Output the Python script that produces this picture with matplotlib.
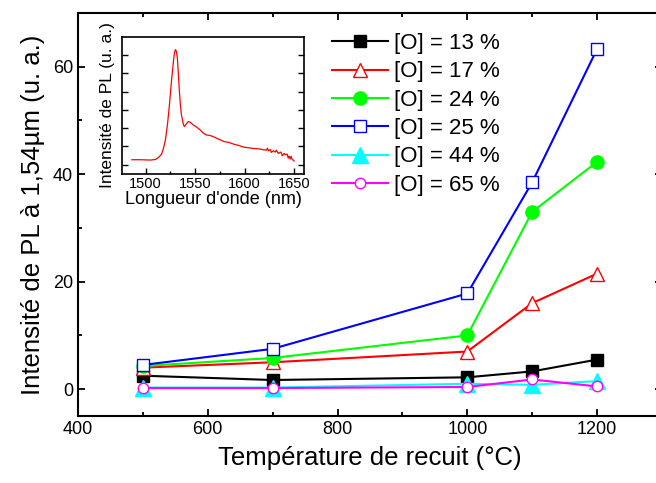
import matplotlib
matplotlib.use('Agg')
import matplotlib.pyplot as plt
import numpy as np

plt.rcParams['font.family'] = ['Liberation Sans', 'DejaVu Sans']

# annealing temperatures (°C) and PL intensity at 1.54 um (a.u.)
temps = [500, 700, 1000, 1100, 1200]
labels = ['[O] = 13 %', '[O] = 17 %', '[O] = 24 %', '[O] = 25 %', '[O] = 44 %', '[O] = 65 %']
o13 = [2.5, 1.7, 2.2, 3.3, 5.5]
o17 = [4.0, 5.0, 7.0, 16.0, 21.5]
o24 = [4.3, 5.8, 10.0, 33.0, 42.3]
o25 = [4.5, 7.5, 17.8, 38.5, 63.3]
o44 = [0.3, 0.3, 1.0, 0.8, 1.5]
o65 = [0.2, 0.2, 0.4, 1.8, 0.5]

# inset spectrum
wl = [1486, 1495, 1505, 1510, 1513, 1516, 1518, 1520, 1522, 1524, 1526, 1528,
      1529, 1530, 1531, 1532, 1533, 1534, 1535, 1536, 1538, 1539, 1541, 1543,
      1545, 1548, 1552, 1555, 1558, 1561, 1565, 1568, 1573, 1579, 1584, 1589,
      1594, 1599, 1604, 1609, 1614, 1619, 1622, 1623, 1624, 1626, 1627, 1629,
      1631, 1632, 1634, 1636, 1637, 1638, 1640, 1641, 1643, 1644, 1645, 1646,
      1647, 1648, 1649, 1650]
pl = [43, 43, 42, 44, 50, 60, 78, 105, 150, 210, 280, 340,
      365, 375, 370, 350, 300, 250, 210, 180, 150, 143, 151, 158,
      156, 148, 140, 133, 124, 118, 116, 113, 106, 98, 95, 90,
      86, 81, 79, 77, 76, 73, 72, 78, 70, 74, 65, 70,
      66, 72, 62, 66, 65, 55, 62, 58, 60, 48, 54, 45,
      53, 44, 42, 39]

fig = plt.figure(figsize=(6.56, 4.83), dpi=100)
ax = fig.add_axes([0.1189, 0.1387, 0.8902, 0.8344])

styles = [
    (o13, 'black', 's', 'black', 8.5),
    (o17, 'red', '^', 'white', 10.5),
    (o24, '#00FF00', 'o', '#00FF00', 9.5),
    (o25, 'blue', 's', 'white', 8.5),
    (o44, '#00FFFF', '^', '#00FFFF', 11),
    (o65, '#FF00FF', 'o', 'white', 7.5),
]
for (vals, c, m, fc, ms), lab in zip(styles, labels):
    ax.plot(temps, vals, color=c, marker=m, markerfacecolor=fc, markeredgecolor=c,
            markersize=ms, linewidth=1.5, label=lab)

ax.set_xlim(400, 1300)
ax.set_ylim(-5, 70)
ax.set_xticks([400, 600, 800, 1000, 1200])
ax.set_xticks([500, 700, 900, 1100], minor=True)
ax.set_yticks([0, 20, 40, 60])
ax.set_yticks([10, 30, 50], minor=True)
ax.tick_params(which='both', direction='in', top=True, right=True, width=1.3, labelsize=13)
ax.tick_params(which='major', length=5)
ax.tick_params(which='minor', length=3)
for s in ax.spines.values():
    s.set_linewidth(1.5)
ax.set_xlabel('Température de recuit (°C)', fontsize=18.5, labelpad=6)
ax.set_ylabel('Intensité de PL à 1,54µm (u. a.)', fontsize=18.5, labelpad=6)

ax.legend(loc='upper left', bbox_to_anchor=(332 / 656, 1 - 33 / 483), bbox_transform=fig.transFigure,
          frameon=False, fontsize=16, handlelength=2.5, handletextpad=0.3, labelspacing=0.33,
          borderpad=0, borderaxespad=0)

ins = fig.add_axes([122 / 656, 1 - 174 / 483, 182 / 656, 137 / 483])
ins.plot(wl, pl, color='red', linewidth=0.9)
ins.set_xlim(1476, 1660)
ins.set_ylim(0, 413)
ins.set_xticks([1500, 1550, 1600, 1650])
ins.set_xticks([1525, 1575, 1625], minor=True)
ins.set_yticks(np.arange(28, 413, 55))
ins.set_yticklabels([])
ins.tick_params(which='both', direction='in', right=True, width=1, labelsize=10.5, pad=2)
ins.tick_params(which='major', length=4)
ins.tick_params(which='minor', length=2.5)
for s in ins.spines.values():
    s.set_linewidth(1.2)
ins.set_xlabel("Longueur d'onde (nm)", fontsize=13, labelpad=0)
ins.set_ylabel('Intensité de PL (u. a.)', fontsize=12.5, labelpad=3)

fig.savefig('out.png', dpi=100)
